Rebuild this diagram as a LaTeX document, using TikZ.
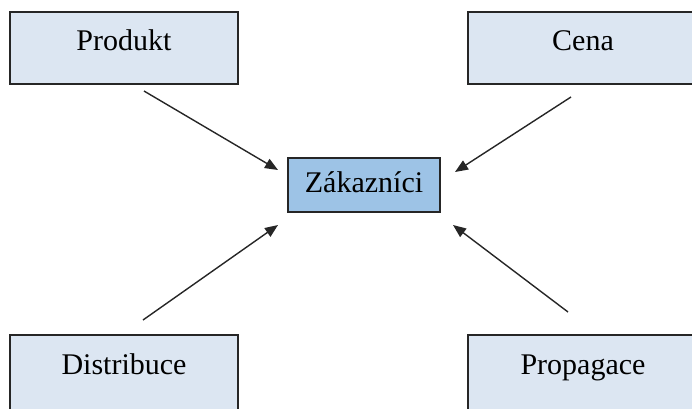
\documentclass[tikz,border=0pt]{standalone}
\usepackage{fontspec}
\setmainfont{Liberation Serif}
\usetikzlibrary{arrows.meta}
\definecolor{boxlight}{RGB}{220,230,242}
\definecolor{boxmid}{RGB}{157,195,230}
\begin{document}
\begin{tikzpicture}
    [x=0.5pt,y=-0.5pt,
     box/.style={draw=black!85,line width=0.9pt,fill=boxlight,inner sep=0pt,
       minimum width=114pt,minimum height=36pt,text height=10pt,text depth=8pt,
       font=\fontsize{15}{18}\selectfont},
     post/.style={-{Triangle[length=6.5pt,width=5.2pt]},line width=0.7pt,black!85}]
    \useasboundingbox (0,0) rectangle (692,408);
    \clip (0,0) rectangle (692,408);
    \node [box,fill=boxmid,minimum width=76pt,minimum height=27pt,
      text height=11pt,text depth=4pt] (zak) at (364,185) {Zákazníci};
    \node [box] (produkt) at (124,48) {Produkt};
    \node [box,minimum width=115pt] (cena) at (583,48) {Cena};
    \node [box,minimum height=37.5pt] (distribuce) at (124,372.5) {Distribuce};
    \node [box,minimum width=115pt,minimum height=37.5pt] (propagace) at (583,372.5) {Propagace};
    % konce sipek
    \coordinate (produkt-out) at (144,91);
    \coordinate (cena-out) at (571,97);
    \coordinate (distribuce-out) at (143,320);
    \coordinate (propagace-out) at (568,312);
    \coordinate (zak-nw) at (278,170);
    \coordinate (zak-ne) at (455,172);
    \coordinate (zak-sw) at (278,225);
    \coordinate (zak-se) at (453,225);
    \draw [post] (produkt-out) -- (zak-nw);
    \draw [post] (cena-out) -- (zak-ne);
    \draw [post] (distribuce-out) -- (zak-sw);
    \draw [post] (propagace-out) -- (zak-se);
  \end{tikzpicture}
\end{document}
